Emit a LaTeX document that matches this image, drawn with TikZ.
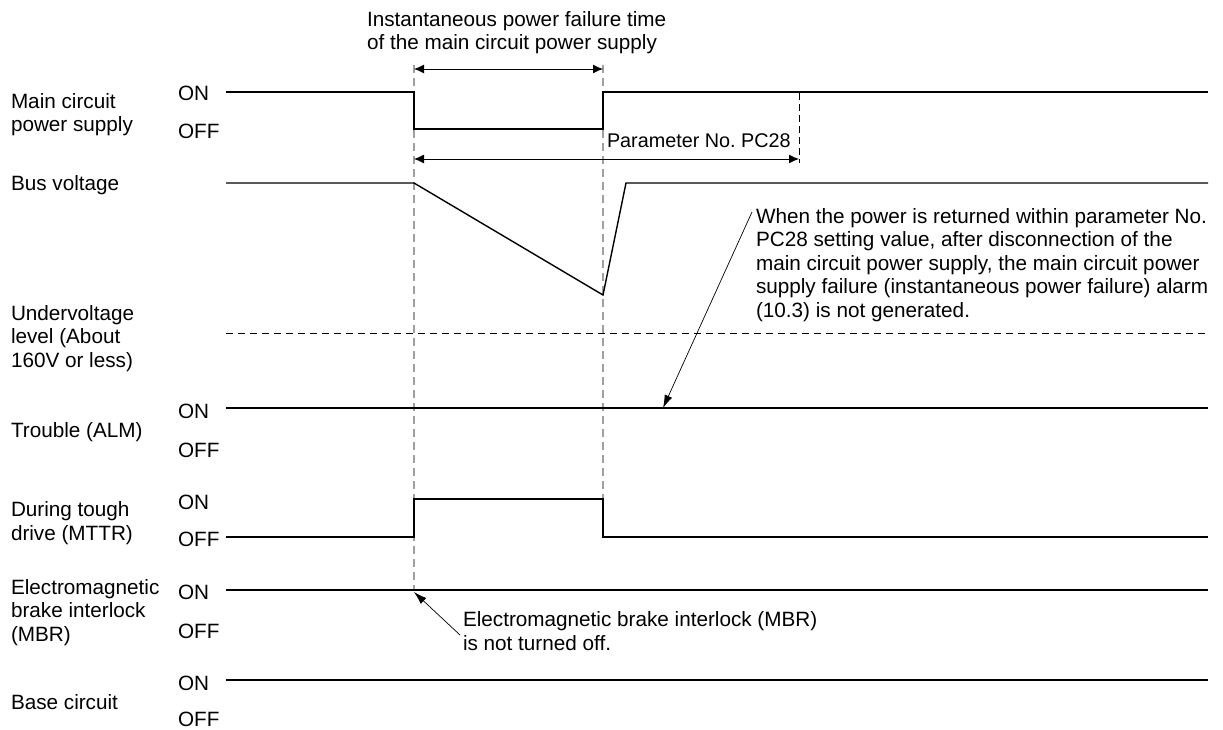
\documentclass[tikz,border=0pt]{standalone}
\usepackage{fontspec}
\setmainfont{Liberation Sans}
\usetikzlibrary{arrows.meta}
\begin{document}
\begin{tikzpicture}[x=1pt,y=-1pt,
  every node/.style={font=\fontsize{20.7}{23.5}\selectfont, inner sep=0pt, outer sep=0pt},
  lbl/.style={anchor=north west, align=left},
  bl/.style={anchor=base west},
  sig/.style={line width=1.4pt, line join=miter},
  guide/.style={line width=1.2pt, gray!75, dash pattern=on 8pt off 5pt},
  uvl/.style={line width=0.9pt, dash pattern=on 7pt off 5pt},
  dim/.style={line width=1pt, {Latex[length=10pt,width=9pt]}-{Latex[length=10pt,width=9pt]}},
  leader/.style={line width=0.7pt, -{Latex[length=13pt,width=8pt]}}]
\useasboundingbox (0,0) rectangle (1223,729);

% left labels
\node[lbl] (lmain) at (11,93) {Main circuit\\power supply};
\node[bl] (lbus) at (11,190.7) {Bus voltage};
\node[lbl] (luv) at (11,305) {Undervoltage\\level (About\\160V or less)};
\node[bl] (lalm) at (11,437) {Trouble (ALM)};
\node[lbl] (lmttr) at (11,501.5) {During tough\\drive (MTTR)};
\node[lbl] (lmbr) at (11,579) {Electromagnetic\\brake interlock\\(MBR)};
\node[bl] (lbase) at (11,709) {Base circuit};

% ON / OFF labels
\node[bl] (on1) at (178,100.7) {ON};
\node[bl] (off1) at (178,138) {OFF};
\node[bl] (on2) at (178,418) {ON};
\node[bl] (off2) at (178,457) {OFF};
\node[bl] (on3) at (178,509) {ON};
\node[bl] (off3) at (178,546.7) {OFF};
\node[bl] (on4) at (178,599) {ON};
\node[bl] (off4) at (178,638) {OFF};
\node[bl] (on5) at (178,690) {ON};
\node[bl] (off5) at (178,726.7) {OFF};

% guide dashed lines
\draw[guide] (414,65) -- (414,590);
\draw[guide] (603,65) -- (603,499);
\draw[line width=0.9pt, dash pattern=on 7pt off 4pt] (799,93) -- (799,163);

% signals
\draw[sig] (226,92) -- (414,92) -- (414,129) -- (603,129) -- (603,92) -- (1208,92);
\draw[sig] (226,183) -- (414,183) -- (603,295) -- (626,183) -- (1208,183);
\draw[uvl] (226,333) -- (1208,333);
\draw[sig] (226,408) -- (1208,408);
\draw[sig] (226,537) -- (414,537) -- (414,499) -- (603,499) -- (603,537) -- (1208,537);
\draw[sig] (226,590) -- (1208,590);
\draw[sig] (226,680) -- (1208,680);

% dimension arrows
\coordinate (a1l) at (414,69);
\coordinate (a1r) at (603,69);
\draw[dim] (a1l) -- (a1r);
\coordinate (a2l) at (414,159);
\coordinate (a2r) at (799,159);
\draw[dim] (a2l) -- (a2r);

\node[lbl] (title) at (367,11) {Instantaneous power failure time\\of the main circuit power supply};
\node[bl, font=\fontsize{19.8}{23.5}\selectfont] (pc28) at (607,147) {Parameter No.\ PC28};

% notes
\node[lbl] (note1) at (756,208) {When the power is returned within parameter No.\\PC28 setting value, after disconnection of the\\main circuit power supply, the main circuit power\\supply failure (instantaneous power failure) alarm\\(10.3) is not generated.};
\coordinate (n1s) at (752,212);
\coordinate (n1t) at (663,408);
\draw[leader] (n1s) -- (n1t);

\node[lbl] (note2) at (463,611.5) {Electromagnetic brake interlock (MBR)\\is not turned off.};
\coordinate (n2s) at (460,635);
\coordinate (n2t) at (414,592);
\draw[leader] (n2s) -- (n2t);
\end{tikzpicture}
\end{document}
